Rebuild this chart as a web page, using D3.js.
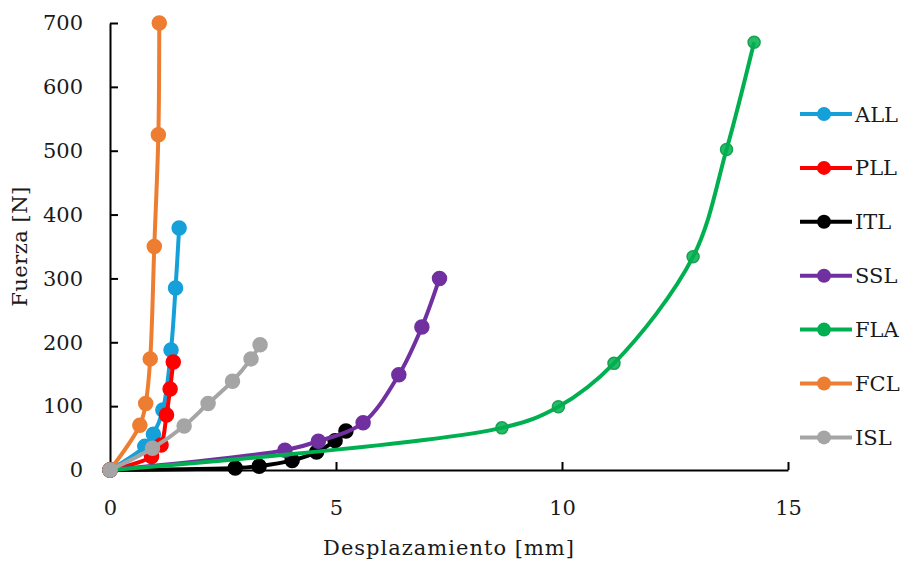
<!DOCTYPE html>
<html>
<head>
<meta charset="utf-8">
<script src="https://cdn.jsdelivr.net/npm/d3@7"></script>
<style>
  html, body { margin: 0; padding: 0; background: #fff; }
  svg text { font-family: "DejaVu Serif", serif; fill: #1a1a1a; }
</style>
</head>
<body>
<svg id="chart" width="906" height="565"></svg>
<script>
// curve data: [displacement mm, force N]
const ALL = [[0,0],[0.77,37],[0.96,56],[1.17,94],[1.35,188],[1.45,285],[1.53,379]];
const PLL = [[0,0],[0.92,21],[1.13,39],[1.25,86],[1.33,127],[1.40,169]];
const ITL = [[0,0],[2.77,3],[3.30,6],[4.03,15],[4.57,28],[4.98,46],[5.22,61]];
const SSL = [[0,0],[3.87,31],[4.61,45],[5.60,74],[6.39,149],[6.90,224],[7.29,300]];
const FLA = [[0,0],[8.67,66],[9.92,99],[11.15,167],[12.90,334],[13.64,502],[14.25,670]];
const FCL = [[0,0],[0.66,70],[0.79,104],[0.89,174],[0.98,350],[1.07,525],[1.09,700]];
const ISL = [[0,0],[0.94,34],[1.64,69],[2.17,104],[2.71,139],[3.12,174],[3.32,196]];

const SERIES_NAMES = ['ALL','PLL','ITL','SSL','FLA','FCL','ISL'];
const SERIES_DATA = [ALL, PLL, ITL, SSL, FLA, FCL, ISL];
const COLORS = ['#15a0d9','#ff0000','#000000','#7030a0','#00b050','#ed7d31','#a5a5a5'];
const X_TICKS = [0, 5, 10, 15];
const Y_TICKS = [0, 100, 200, 300, 400, 500, 600, 700];

const FS = '21px';
const svg = d3.select('#chart');
const M = { left: 110, right: 118, top: 23, bottom: 95 };
const W = 906 - M.left - M.right, H = 565 - M.top - M.bottom;

const x = d3.scaleLinear().domain([0, 15]).range([0, W]);
const y = d3.scaleLinear().domain([0, 700]).range([H, 0]);

const g = svg.append('g').attr('transform', `translate(${M.left},${M.top})`);

// axes, ticks pointing inward like the original
const xAxis = g.append('g').attr('transform', `translate(0,${H})`)
  .call(d3.axisBottom(x).tickValues(X_TICKS).tickSize(-8).tickPadding(30).tickSizeOuter(0));
const yAxis = g.append('g')
  .call(d3.axisLeft(y).tickValues(Y_TICKS).tickSize(-8).tickPadding(27).tickSizeOuter(0));
[xAxis, yAxis].forEach(a => {
  a.select('.domain').attr('stroke', '#000').attr('stroke-width', 2);
  a.selectAll('.tick line').attr('stroke', '#000').attr('stroke-width', 2);
  a.selectAll('.tick text').style('font-size', FS).attr('fill', '#1a1a1a');
});
xAxis.selectAll('.tick').filter(d => d === 0).select('line').remove();

const line = d3.line().x(d => x(d[0])).y(d => y(d[1])).curve(d3.curveCatmullRom.alpha(0.5));

SERIES_DATA.forEach((data, i) => {
  const col = COLORS[i];
  const isFla = SERIES_NAMES[i] === 'FLA';
  g.append('path').datum(data)
    .attr('fill', 'none').attr('stroke', col).attr('stroke-width', 4)
    .attr('stroke-linejoin', 'round').attr('d', line);
  g.selectAll(null).data(data).enter().append('circle')
    .attr('cx', d => x(d[0])).attr('cy', d => y(d[1]))
    .attr('r', isFla ? 6 : 7)
    .attr('fill', col)
    .attr('fill-opacity', isFla ? 0.85 : 1)
    .attr('stroke', isFla ? '#16a24f' : col)
    .attr('stroke-width', 1.5);
});

// axis titles
svg.append('text').attr('x', M.left + W / 2).attr('y', 555)
  .attr('text-anchor', 'middle').style('font-size', FS).style('letter-spacing', '1px')
  .text('Desplazamiento [mm]');
svg.append('text').attr('transform', `translate(27,${M.top + H / 2}) rotate(-90)`)
  .attr('text-anchor', 'middle').style('font-size', FS).style('letter-spacing', '0.5px')
  .text('Fuerza [N]');

// legend
const leg = svg.append('g').attr('transform', 'translate(800,114)');
SERIES_NAMES.forEach((name, i) => {
  const row = leg.append('g').attr('transform', `translate(0,${i * 53.9})`);
  row.append('line').attr('x1', 0).attr('x2', 52).attr('y1', 0).attr('y2', 0)
    .attr('stroke', COLORS[i]).attr('stroke-width', 4);
  row.append('circle').attr('cx', 24).attr('cy', 0).attr('r', 7).attr('fill', COLORS[i]);
  row.append('text').attr('x', 55).attr('y', 0).attr('dy', '0.36em')
    .style('font-size', FS).text(name);
});
</script>
</body>
</html>
